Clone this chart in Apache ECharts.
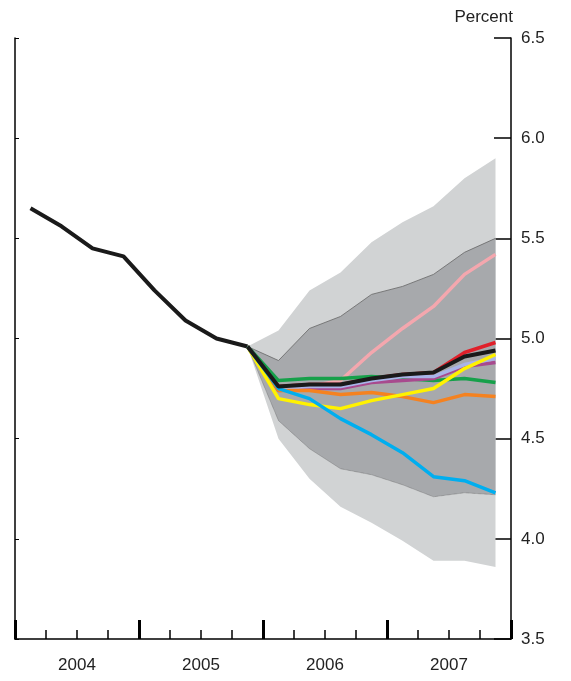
<!DOCTYPE html><html><head><meta charset="utf-8"><script src="https://cdn.jsdelivr.net/npm/echarts@6/dist/echarts.min.js"></script></head><body style="margin:0"><div id="c" style="width:571px;height:681px"></div><script>
const quarters=['04Q1','04Q2','04Q3','04Q4','05Q1','05Q2','05Q3','05Q4','06Q1','06Q2','06Q3','06Q4','07Q1','07Q2','07Q3','07Q4'];
const years=['2004','2005','2006','2007'];
const history=[5.65,5.56,5.45,5.41,5.24,5.09,5.0,4.96];
const outerHi=[4.96,5.04,5.24,5.33,5.48,5.58,5.66,5.8,5.9];
const outerLo=[4.96,4.5,4.3,4.16,4.08,3.99,3.89,3.89,3.86];
const innerHi=[4.96,4.89,5.05,5.11,5.22,5.26,5.32,5.43,5.5];
const innerLo=[4.96,4.59,4.45,4.35,4.32,4.27,4.21,4.23,4.22];
const fc={
 pink:[4.96,4.76,4.76,4.79,4.93,5.05,5.16,5.32,5.42],
 red:[4.96,4.76,4.77,4.77,4.80,4.82,4.83,4.93,4.98],
 green:[4.96,4.79,4.80,4.80,4.81,4.80,4.79,4.80,4.78],
 purple:[4.96,4.74,4.75,4.75,4.78,4.79,4.80,4.86,4.88],
 lavender:[4.96,4.75,4.76,4.76,4.79,4.81,4.81,4.87,4.90],
 orange:[4.96,4.74,4.74,4.72,4.73,4.71,4.68,4.72,4.71],
 yellow:[4.96,4.70,4.67,4.65,4.69,4.72,4.75,4.85,4.92],
 blue:[4.96,4.75,4.70,4.60,4.52,4.43,4.31,4.29,4.23],
 black:[4.96,4.76,4.77,4.77,4.80,4.82,4.83,4.91,4.94]};
const colors={pink:'#f4a7ae',red:'#e0202a',green:'#16a04a',purple:'#a84a8e',lavender:'#a9b4e8',orange:'#f58220',yellow:'#fff200',blue:'#00aeef',black:'#1a1a1a'};
const pad=a=>Array(7).fill(null).concat(a);
const diff=(h,l)=>h.map((v,i)=>+(v-l[i]).toFixed(3));
const series=[
 {type:'line',stack:'o',data:pad(outerLo),symbol:'none',lineStyle:{width:0},silent:true},
 {type:'line',stack:'o',data:pad(diff(outerHi,outerLo)),symbol:'none',lineStyle:{width:0},areaStyle:{color:'#d1d3d4',opacity:1}},
 {type:'line',stack:'i',data:pad(innerLo),symbol:'none',lineStyle:{width:0.6,color:'#555',type:'dotted'}},
 {type:'line',stack:'i',data:pad(diff(innerHi,innerLo)),symbol:'none',lineStyle:{width:0.8,color:'#666'},areaStyle:{color:'#a7a9ac',opacity:1}},
 {type:'line',data:history,symbol:'none',lineStyle:{width:4,color:'#1a1a1a'}}
];
for(const k of Object.keys(fc)) series.push({type:'line',data:pad(fc[k]),symbol:'none',lineStyle:{width:k==='black'?4:3.5,color:colors[k]}});
const ch=echarts.init(document.getElementById('c'));
ch.setOption({animation:false,grid:{left:15,right:60,top:38,bottom:42},
 xAxis:[{type:'category',data:quarters,boundaryGap:true,axisLine:{show:true,lineStyle:{color:'#000',width:1.5}},axisTick:{show:true,interval:0,inside:true,length:9,lineStyle:{color:'#000',width:1.5}},axisLabel:{show:false}},
 {type:'category',data:years,position:'bottom',boundaryGap:true,axisLine:{show:false},axisTick:{show:true,interval:0,inside:true,length:19,lineStyle:{color:'#000',width:3}},axisLabel:{fontSize:17,color:'#222',fontFamily:'Liberation Sans',margin:18}}],
 yAxis:[{type:'value',min:3.5,max:6.5,interval:0.5,position:'right',splitLine:{show:false},axisLine:{show:true,lineStyle:{color:'#000',width:1.5}},axisTick:{show:true,inside:true,length:17,lineStyle:{color:'#000',width:1.5}},axisLabel:{formatter:v=>v.toFixed(1),fontSize:17,color:'#222',fontFamily:'Liberation Sans',margin:10},name:'Percent',nameGap:12,nameTextStyle:{fontSize:17,color:'#222',fontFamily:'Liberation Sans',align:'right',padding:[0,-2,0,0]}},
 {type:'value',min:3.5,max:6.5,interval:0.5,position:'left',splitLine:{show:false},axisLine:{show:true,lineStyle:{color:'#000',width:1.5}},axisTick:{show:true,inside:true,length:4,lineStyle:{color:'#000',width:1}},axisLabel:{show:false}}],
 series});
</script></body></html>
